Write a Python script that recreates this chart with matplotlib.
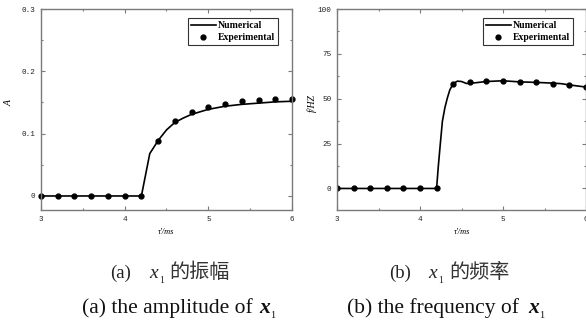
import matplotlib
matplotlib.use("Agg")
import matplotlib.pyplot as plt
from matplotlib.ticker import MultipleLocator

# (a) amplitude
amp_num_t = [3.0, 3.2, 3.4, 3.6, 3.8, 4.0, 4.2, 4.3, 4.4, 4.5, 4.6, 4.7, 4.8, 5.0, 5.2, 5.4, 5.6, 5.8, 6.0]
amp_num_v = [0, 0, 0, 0, 0, 0, 0, 0.068, 0.089, 0.106, 0.118, 0.125, 0.131, 0.139, 0.144, 0.147, 0.149, 0.151, 0.152]
amp_exp_t = [3.0, 3.2, 3.4, 3.6, 3.8, 4.0, 4.2, 4.4, 4.6, 4.8, 5.0, 5.2, 5.4, 5.6, 5.8, 6.0]
amp_exp_v = [0, 0, 0, 0, 0, 0, 0, 0.088, 0.120, 0.135, 0.143, 0.148, 0.152, 0.154, 0.155, 0.155]

# (b) frequency
freq_num_t = [3.0, 3.2, 3.4, 3.6, 3.8, 4.0, 4.2, 4.22, 4.245, 4.27, 4.3, 4.33, 4.36, 4.4, 4.45, 4.5,
              4.56, 4.65, 4.8, 5.0, 5.2, 5.4, 5.6, 5.7, 5.8, 6.0]
freq_num_v = [0, 0, 0, 0, 0, 0, 0, 12, 25, 37.5, 45, 50.5, 55, 58.4, 59.8, 59.6,
              58.5, 58.8, 59.6, 60.0, 59.4, 59.1, 58.7, 58.4, 57.7, 56.5]
freq_exp_t = [3.0, 3.2, 3.4, 3.6, 3.8, 4.0, 4.2, 4.4, 4.6, 4.8, 5.0, 5.2, 5.4, 5.6, 5.8, 6.0]
freq_exp_v = [0, 0, 0, 0, 0, 0, 0, 58.4, 59.2, 59.7, 59.7, 59.2, 59.1, 58.4, 57.5, 56.3]

W, H = 586, 327
fig = plt.figure(figsize=(W / 100, H / 100), dpi=100)

spine_col = "#7a7a7a"


def setup(ax, ymin, ymax, ymaj, ymin_step, ylabel, ylab_x):
    ax.set_xlim(3, 6)
    ax.set_ylim(ymin, ymax)
    ax.xaxis.set_major_locator(MultipleLocator(1))
    ax.xaxis.set_minor_locator(MultipleLocator(0.5))
    ax.yaxis.set_major_locator(MultipleLocator(ymaj))
    ax.yaxis.set_minor_locator(MultipleLocator(ymin_step))
    ax.tick_params(which="both", direction="in", top=True, right=True,
                   color=spine_col, width=0.8, labelsize=5.5, pad=4, labelcolor="#222222")
    ax.tick_params(which="major", length=3)
    ax.tick_params(which="minor", length=1.5)
    for s in ax.spines.values():
        s.set_color(spine_col)
        s.set_linewidth(1.0)
    ax.set_xlabel("τ'/ms", fontsize=6, family="Liberation Serif", style="italic", labelpad=4)
    ax.set_ylabel(ylabel, fontsize=7, family="Liberation Serif", style="italic")
    ax.yaxis.set_label_coords(ylab_x, 0.53)


ax1 = fig.add_axes([41 / W, 1 - 210 / H, 251 / W, 201 / H])
ax1.plot(amp_num_t, amp_num_v, color="black", lw=1.2, label="Numerical")
ax1.plot(amp_exp_t, amp_exp_v, "o", color="black", ms=3.5, label="Experimental", clip_on=False)
setup(ax1, -0.0225, 0.3, 0.1, 0.05, "A", (14 - 41) / 251)
ax1.yaxis.set_major_formatter(plt.FuncFormatter(lambda v, p: "0" if abs(v) < 1e-9 else "%g" % v))

ax2 = fig.add_axes([337 / W, 1 - 210 / H, 249 / W, 201 / H])
ax2.plot(freq_num_t, freq_num_v, color="black", lw=1.2, label="Numerical")
ax2.plot(freq_exp_t, freq_exp_v, "o", color="black", ms=3.5, label="Experimental")
setup(ax2, -12, 100, 25, 12.5, "f/HZ", (317 - 337) / 249)

for ax, bx in ((ax1, 0.944), (ax2, 0.948)):
    for lab in ax.get_xticklabels() + ax.get_yticklabels():
        lab.set_fontfamily("Liberation Mono")
    leg = ax.legend(loc="upper right", bbox_to_anchor=(bx, 0.955),
                    prop={"family": "Liberation Serif", "size": 7, "weight": "bold"},
                    frameon=True, fancybox=False, edgecolor="black", handlelength=2.6,
                    handletextpad=0.2, borderpad=0.3, labelspacing=0.35, borderaxespad=0)
    leg.get_frame().set_linewidth(0.8)


def ptext(px, py, s, **kw):
    fig.text(px / W, 1 - py / H, s, va="baseline", ha="left", **kw)


serif = ["Liberation Serif", "Noto Sans CJK SC"]
cjk = ["Noto Sans CJK SC"]
# row 1
ptext(110, 278, "(a)", family=serif, size=13.5, color="#222222")
ptext(149, 278, "x", family=serif, size=14, style="italic", color="#222222")
ptext(159, 283, "1", family=serif, size=7, color="#222222")
ptext(169, 278, "的振幅", family=cjk, size=14.5, color="#333333")
ptext(389, 278, "(b)", family=serif, size=13.5, color="#222222")
ptext(428, 278, "x", family=serif, size=14, style="italic", color="#222222")
ptext(438, 283, "1", family=serif, size=7, color="#222222")
ptext(449, 278, "的频率", family=cjk, size=14.5, color="#333333")
# row 2
ptext(82, 313, "(a) the amplitude of", family=serif, size=15.5, color="#111111")
ptext(259, 313, "x", family=serif, size=15.5, style="italic", weight="bold", color="#111111")
ptext(270, 318, "1", family=serif, size=7.5, color="#111111")
ptext(347, 313, "(b) the frequency of", family=serif, size=15.5, color="#111111")
ptext(528, 313, "x", family=serif, size=15.5, style="italic", weight="bold", color="#111111")
ptext(539, 318, "1", family=serif, size=7.5, color="#111111")

fig.savefig("out.png", dpi=100)
